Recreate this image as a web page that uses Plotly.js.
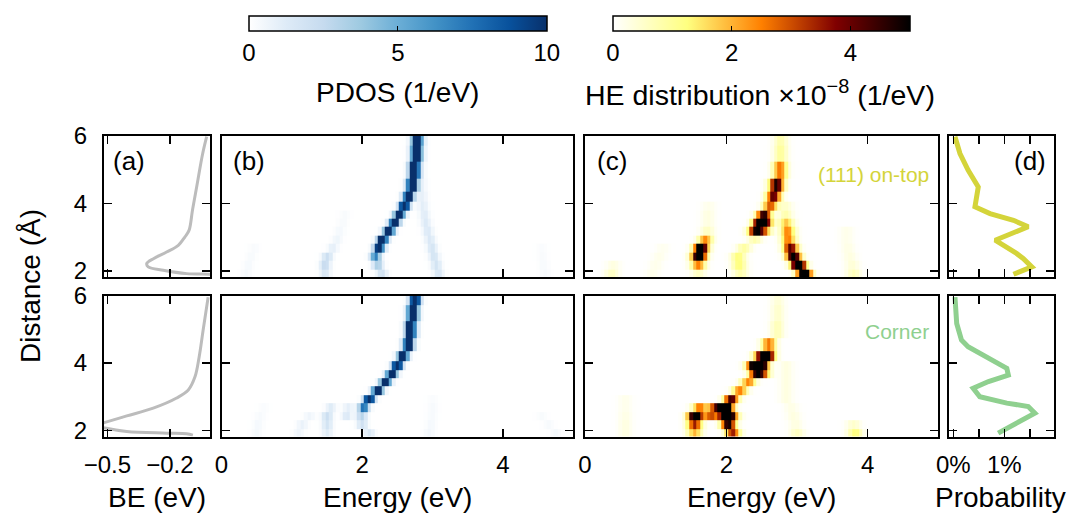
<!DOCTYPE html>
<html><head><meta charset="utf-8">
<script src="https://cdn.plot.ly/plotly-3.0.1.min.js"></script>
<style>html,body{margin:0;padding:0;background:#fff}</style>
</head><body><div id="chart" style="width:1072px;height:513px"></div>
<script>
// ---------- data ----------
// distance rows (Å) of the heat maps (cell centres)
const distRows = [1.925, 2.175, 2.425, 2.675, 2.925, 3.175, 3.425, 3.675, 3.925, 4.175, 4.5, 5.0, 5.5, 5.9];

// PDOS, (111) on-top : ridges (distance, energy of peak, height)
const pdosTopMainD = [1.925, 2.175, 2.425, 2.675, 2.925, 3.175, 3.425, 3.675, 3.925, 4.175, 4.5, 5.0, 5.5, 5.9];
const pdosTopMainE = [2.28, 2.22, 2.19, 2.24, 2.29, 2.38, 2.46, 2.53, 2.60, 2.66, 2.71, 2.74, 2.77, 2.78];
const pdosTopMainV = [2.0, 3.5, 7, 13, 14, 14, 14, 14, 14, 14, 14, 14, 14, 14];
const pdosTopRightD = [1.925, 2.175, 2.425, 2.675, 2.925, 3.175, 3.425, 3.675, 3.925, 4.175, 4.5, 5.0, 5.5, 5.9];
const pdosTopRightE = [3.08, 3.05, 3.02, 2.99, 2.96, 2.93, 2.90, 2.88, 2.86, 2.85, 2.84, 2.83, 2.83, 2.83];
const pdosTopRightV = [1.6, 1.8, 1.8, 1.7, 1.5, 1.4, 1.3, 1.2, 1.1, 0.9, 0.7, 0.5, 0.4, 0.3];
const pdosTopLeftD = [1.925, 2.175, 2.425, 2.675, 2.925, 3.175, 3.425, 3.675];
const pdosTopLeftE = [1.47, 1.47, 1.50, 1.58, 1.64, 1.68, 1.72, 1.75];
const pdosTopLeftV = [1.5, 2.5, 2.2, 1.0, 0.6, 0.4, 0.3, 0.25];
const pdosTopFaint1D = [1.925, 2.175, 2.425, 2.675];
const pdosTopFaint1E = [0.35, 0.38, 0.42, 0.46];
const pdosTopFaint1V = [0.4, 0.35, 0.3, 0.25];
const pdosTopFaint2D = [1.925, 2.175, 2.425, 2.675];
const pdosTopFaint2E = [4.60, 4.58, 4.56, 4.55];
const pdosTopFaint2V = [0.3, 0.3, 0.25, 0.2];

// PDOS, corner
const pdosBotMainD = [1.925, 2.175, 2.425, 2.675, 2.925, 3.175, 3.425, 3.675, 3.925, 4.175, 4.5, 5.0, 5.5, 5.9];
const pdosBotMainE = [2.10, 2.00, 1.99, 2.02, 2.10, 2.22, 2.33, 2.42, 2.50, 2.58, 2.66, 2.69, 2.72, 2.75];
const pdosBotMainV = [1.5, 2.0, 3.0, 8, 14, 14, 14, 14, 14, 14, 14, 14, 14, 14];
const pdosBotLeft1D = [1.925, 2.175, 2.425, 2.675];
const pdosBotLeft1E = [1.50, 1.50, 1.50, 1.55];
const pdosBotLeft1V = [1.2, 1.8, 2.2, 1.2];
const pdosBotLeft2D = [2.425, 2.675];
const pdosBotLeft2E = [1.78, 1.80];
const pdosBotLeft2V = [1.4, 1.0];
const pdosBotLeft3D = [1.925, 2.175, 2.425];
const pdosBotLeft3E = [1.10, 1.15, 1.25];
const pdosBotLeft3V = [0.6, 0.8, 0.6];
const pdosBotFaint1D = [1.925, 2.175, 2.425, 2.675];
const pdosBotFaint1E = [0.50, 0.52, 0.55, 0.60];
const pdosBotFaint1V = [0.4, 0.4, 0.3, 0.2];
const pdosBotFaint2D = [1.925, 2.175, 2.425, 2.675, 2.925];
const pdosBotFaint2E = [2.95, 2.97, 2.99, 3.00, 3.00];
const pdosBotFaint2V = [0.5, 0.4, 0.3, 0.3, 0.2];
const pdosBotFaint3D = [1.925, 2.175, 2.425];
const pdosBotFaint3E = [4.75, 4.65, 4.55];
const pdosBotFaint3V = [0.4, 0.3, 0.25];

// HE distribution (x1e-8), (111) on-top
const heTopMainD = [1.925, 2.175, 2.425, 2.675, 2.925, 3.175, 3.425, 3.675, 3.925, 4.175, 4.5, 5.0, 5.5, 5.9];
const heTopMainE = [2.20, 2.18, 2.17, 2.25, 2.40, 2.41, 2.48, 2.53, 2.62, 2.67, 2.71, 2.76, 2.77, 2.77];
const heTopMainV = [0.8, 1.3, 1.3, 0.9, 0.8, 4.5, 6.5, 4.8, 3.0, 4.2, 4.8, 2.6, 1.0, 0.8];
const heTopMain2D = [3.175, 3.425];
const heTopMain2E = [2.53, 2.56];
const heTopMain2V = [2.5, 2.8];
const heTopRightD = [1.925, 2.175, 2.425, 2.675, 2.925, 3.175, 3.425, 3.675, 3.925];
const heTopRightE = [3.10, 3.02, 2.95, 2.91, 2.88, 2.87, 2.85, 2.84, 2.84];
const heTopRightV = [6.5, 6.5, 5.5, 4.2, 2.6, 2.5, 1.8, 0.8, 0.5];
const heTopLeftD = [1.925, 2.175, 2.425, 2.675, 2.925, 3.175, 3.425, 3.675, 3.925];
const heTopLeftE = [1.60, 1.60, 1.61, 1.64, 1.70, 1.73, 1.74, 1.74, 1.75];
const heTopLeftV = [0.6, 2.5, 6.5, 6.0, 2.4, 0.6, 0.3, 0.3, 0.2];
const heTopFaint1D = [1.925, 2.175];
const heTopFaint1E = [0.38, 0.40];
const heTopFaint1V = [0.6, 0.3];
const heTopFaint2D = [1.925, 2.175, 2.425, 2.675, 2.925, 3.175];
const heTopFaint2E = [3.80, 3.78, 3.75, 3.72, 3.70, 3.70];
const heTopFaint2V = [0.7, 0.4, 0.3, 0.25, 0.2, 0.2];
const heTopFaint3D = [1.925, 2.175, 2.425, 2.675];
const heTopFaint3E = [0.95, 1.00, 1.05, 1.10];
const heTopFaint3V = [0.2, 0.2, 0.2, 0.15];

// HE distribution, corner
const heBotMainD = [1.925, 2.175, 2.425, 2.675, 2.925, 3.175, 3.425, 3.675, 3.925, 4.175, 4.5, 5.0, 5.5, 5.9];
const heBotMainE = [2.09, 2.03, 1.99, 2.00, 2.07, 2.19, 2.31, 2.42, 2.49, 2.58, 2.60, 2.72, 2.73, 2.73];
const heBotMainV = [3.5, 5.0, 6.5, 6.0, 4.5, 2.5, 2.5, 4.2, 6.5, 5.5, 2.6, 0.7, 0.5, 0.4];
const heBotMain2D = [2.425, 2.675, 3.675, 3.925, 4.175];
const heBotMain2E = [2.08, 1.92, 2.52, 2.38, 2.48];
const heBotMain2V = [3.0, 3.0, 2.5, 4.5, 3.0];
const heBotLeftD = [1.925, 2.175, 2.425, 2.675];
const heBotLeftE = [1.55, 1.55, 1.56, 1.62];
const heBotLeftV = [2.0, 3.5, 6.5, 2.6];
const heBotLeft2D = [2.425, 2.675];
const heBotLeft2E = [1.78, 1.82];
const heBotLeft2V = [3.0, 2.2];
const heBotFaint1D = [1.925, 2.175, 2.425, 2.675, 2.925];
const heBotFaint1E = [0.57, 0.57, 0.57, 0.57, 0.57];
const heBotFaint1V = [0.3, 0.3, 0.25, 0.2, 0.2];
const heBotFaint2D = [1.925, 2.175];
const heBotFaint2E = [3.82, 3.80];
const heBotFaint2V = [1.3, 0.5];
const heBotFaint3D = [1.925, 2.175, 2.425, 2.675];
const heBotFaint3E = [3.00, 2.98, 2.95, 2.92];
const heBotFaint3V = [0.6, 0.3, 0.3, 0.25];
const heBotFaint4D = [2.925, 3.175, 3.425, 3.675, 3.925];
const heBotFaint4E = [2.85, 2.85, 2.85, 2.85, 2.85];
const heBotFaint4V = [0.3, 0.3, 0.3, 0.3, 0.3];

// (a) binding energy curves
const beTopBE = [0.0, -0.012, -0.12, -0.232, -0.304, -0.311, -0.277, -0.216, -0.16, -0.128, -0.108, -0.092, -0.072, -0.043, -0.024];
const beTopD  = [1.89, 1.90, 1.92, 2.02, 2.12, 2.22, 2.37, 2.56, 2.76, 3.01, 3.21, 3.80, 4.49, 5.48, 5.98];
const beBotBE = [-0.09, -0.12, -0.216, -0.407, -0.511, -0.56, -0.511, -0.407, -0.28, -0.168, -0.112, -0.08, -0.06, -0.041, -0.017];
const beBotD  = [1.86, 1.90, 1.92, 1.97, 2.07, 2.15, 2.24, 2.43, 2.66, 2.96, 3.20, 3.59, 4.18, 4.97, 5.95];

// (d) probability (%)
const probTopP = [1.18, 1.54, 1.37, 1.24, 0.82, 1.47, 1.18, 0.72, 0.425, 0.49, 0.29, 0.131, 0.033];
const probTopD = [1.90, 2.12, 2.37, 2.52, 2.91, 3.31, 3.50, 3.70, 3.90, 4.49, 4.99, 5.48, 5.98];
const probBotP = [0.88, 1.24, 1.60, 1.47, 1.05, 0.52, 0.39, 0.69, 1.08, 1.05, 0.65, 0.29, 0.16, 0.067, 0.033];
const probBotD = [1.92, 2.22, 2.51, 2.71, 2.81, 3.00, 3.25, 3.45, 3.64, 3.84, 4.18, 4.48, 4.68, 5.17, 5.95];

const distTicks = [2, 4, 6];
const energyTicks = [0, 2, 4];
const beTicks = [-0.5, -0.2];
const beTickText = ['\u22120.5', '\u22120.2'];
const probTicks = [0, 1];
const probTickText = ['0%', '1%'];
const probMinorTicks = [0.5, 1.5];

// ---------- build heat-map tables ----------
const energies = [];
for (let k = 0; k <= 100; k++) energies.push(+(k * 0.05).toFixed(2));
function grid(ridges, sigma) {
  const z = distRows.map(() => energies.map(() => 0));
  ridges.forEach(([d, e, v]) => {
    d.forEach((dv, i) => {
      const row = distRows.indexOf(dv);
      energies.forEach((E, k) => { z[row][k] += v[i] * Math.exp(-0.5 * Math.pow((E - e[i]) / sigma, 2)); });
    });
  });
  return z;
}
const zPdosTop = grid([[pdosTopMainD, pdosTopMainE, pdosTopMainV], [pdosTopRightD, pdosTopRightE, pdosTopRightV],
  [pdosTopLeftD, pdosTopLeftE, pdosTopLeftV], [pdosTopFaint1D, pdosTopFaint1E, pdosTopFaint1V],
  [pdosTopFaint2D, pdosTopFaint2E, pdosTopFaint2V]], 0.05);
const zPdosBot = grid([[pdosBotMainD, pdosBotMainE, pdosBotMainV], [pdosBotLeft1D, pdosBotLeft1E, pdosBotLeft1V],
  [pdosBotLeft2D, pdosBotLeft2E, pdosBotLeft2V], [pdosBotLeft3D, pdosBotLeft3E, pdosBotLeft3V],
  [pdosBotFaint1D, pdosBotFaint1E, pdosBotFaint1V], [pdosBotFaint2D, pdosBotFaint2E, pdosBotFaint2V],
  [pdosBotFaint3D, pdosBotFaint3E, pdosBotFaint3V]], 0.05);
const zHeTop = grid([[heTopMainD, heTopMainE, heTopMainV], [heTopMain2D, heTopMain2E, heTopMain2V],
  [heTopRightD, heTopRightE, heTopRightV], [heTopLeftD, heTopLeftE, heTopLeftV],
  [heTopFaint1D, heTopFaint1E, heTopFaint1V], [heTopFaint2D, heTopFaint2E, heTopFaint2V],
  [heTopFaint3D, heTopFaint3E, heTopFaint3V]], 0.068);
const zHeBot = grid([[heBotMainD, heBotMainE, heBotMainV], [heBotMain2D, heBotMain2E, heBotMain2V],
  [heBotLeftD, heBotLeftE, heBotLeftV], [heBotLeft2D, heBotLeft2E, heBotLeft2V],
  [heBotFaint1D, heBotFaint1E, heBotFaint1V], [heBotFaint2D, heBotFaint2E, heBotFaint2V],
  [heBotFaint3D, heBotFaint3E, heBotFaint3V], [heBotFaint4D, heBotFaint4E, heBotFaint4V]], 0.068);

// ---------- geometry ----------
const W = 1072, H = 513;
const px = p => p / W, py = p => 1 - p / H;
const colX = { a: [104, 210], b: [221.5, 573.3], c: [585, 938.3], d: [949, 1054] };
const rowY = { top: [136, 277], bot: [295.5, 436.5] };
const FONT = 'Liberation Sans, Arial, Helvetica, sans-serif';

const blues = [[0, '#ffffff'], [0.125, '#deebf7'], [0.25, '#c6dbef'], [0.375, '#9ecae1'], [0.5, '#6baed6'],
  [0.625, '#4292c6'], [0.75, '#2171b5'], [0.875, '#08519c'], [1, '#08306b']];
const afmhotR = [[0, '#ffffff'], [0.25, '#ffff80'], [0.5, '#ff8000'], [0.75, '#800000'], [1, '#000000']];

const GREY = '#bcbcbc', YEL = '#d4d43a', GRN = '#8fd08f';

const traces = [
  { type: 'scatter', mode: 'lines', x: beTopBE, y: beTopD, xaxis: 'x', yaxis: 'y', line: { color: GREY, width: 3, shape: 'spline' } },
  { type: 'heatmap', x: energies, y: distRows, z: zPdosTop, coloraxis: 'coloraxis', xaxis: 'x2', yaxis: 'y2', zsmooth: false },
  { type: 'heatmap', x: energies, y: distRows, z: zHeTop, coloraxis: 'coloraxis2', xaxis: 'x3', yaxis: 'y3', zsmooth: false },
  { type: 'scatter', mode: 'lines', x: probTopP, y: probTopD, xaxis: 'x4', yaxis: 'y4', line: { color: YEL, width: 5 } },
  { type: 'scatter', mode: 'lines', x: beBotBE, y: beBotD, xaxis: 'x5', yaxis: 'y5', line: { color: GREY, width: 3, shape: 'spline' } },
  { type: 'heatmap', x: energies, y: distRows, z: zPdosBot, coloraxis: 'coloraxis', xaxis: 'x6', yaxis: 'y6', zsmooth: false },
  { type: 'heatmap', x: energies, y: distRows, z: zHeBot, coloraxis: 'coloraxis2', xaxis: 'x7', yaxis: 'y7', zsmooth: false },
  { type: 'scatter', mode: 'lines', x: probBotP, y: probBotD, xaxis: 'x8', yaxis: 'y8', line: { color: GRN, width: 5 } }
];

function ax(extra) {
  return Object.assign({
    showline: true, linewidth: 2, linecolor: '#000', mirror: 'ticks', ticks: 'inside', ticklen: 8,
    tickwidth: 1.5, tickcolor: '#000', zeroline: false, showgrid: false, fixedrange: true,
    tickfont: { size: 24, color: '#000', family: FONT }
  }, extra);
}
function cbar(x, len, vals) {
  return {
    orientation: 'h', x: px(x), xanchor: 'center', y: py(16), yanchor: 'top', len: len, lenmode: 'pixels',
    thickness: 15, thicknessmode: 'pixels', outlinewidth: 1.5, outlinecolor: '#000', xpad: 0, ypad: 0,
    ticks: 'inside', ticklen: 5, tickwidth: 1.2, tickcolor: '#000', tickvals: vals,
    tickfont: { size: 24, family: FONT, color: '#000' }
  };
}
const layout = {
  width: W, height: H, margin: { l: 0, r: 0, t: 0, b: 0 }, showlegend: false,
  paper_bgcolor: '#fff', plot_bgcolor: '#fff', font: { family: FONT, color: '#000' },
  coloraxis: { cmin: 0, cmax: 10, colorscale: blues, colorbar: cbar(397.8, 298, [0, 5, 10]) },
  coloraxis2: { cmin: 0, cmax: 5, colorscale: afmhotR, colorbar: cbar(761.3, 297, [0, 2, 4]) },
  annotations: []
};
const cols = ['a', 'b', 'c', 'd'];
['top', 'bot'].forEach((r, ri) => {
  cols.forEach((c, ci) => {
    const n = ri * 4 + ci + 1;
    const xs = n === 1 ? '' : n;
    const xa = { domain: [px(colX[c][0]), px(colX[c][1])], anchor: 'y' + xs };
    if (c === 'a') Object.assign(xa, { range: [-0.516, -0.008], tickvals: beTicks, ticktext: beTickText });
    if (c === 'b' || c === 'c') Object.assign(xa, { range: [0, 5], tickvals: energyTicks });
    if (c === 'd') Object.assign(xa, { range: [-0.084, 1.975], tickvals: probTicks, ticktext: probTickText,
      minor: { tickvals: probMinorTicks, ticks: 'inside', ticklen: 8, tickwidth: 1.5, tickcolor: '#000', showgrid: false } });
    xa.showticklabels = (r === 'bot');
    xa.ticklabelstandoff = 6;
    const ya = { domain: [py(rowY[r][1]), py(rowY[r][0])], anchor: 'x' + xs, range: [1.82, 6], tickvals: distTicks,
      showticklabels: c === 'a', ticklabelstandoff: 10 };
    layout['xaxis' + xs] = ax(xa);
    layout['yaxis' + xs] = ax(ya);
  });
});

function note(text, x, y, opts) {
  layout.annotations.push(Object.assign({ text, x: px(x), y: py(y), xref: 'paper', yref: 'paper', showarrow: false,
    xanchor: 'left', yanchor: 'middle', font: { size: 26, family: FONT, color: '#000' } }, opts || {}));
}
const big = { size: 28, family: FONT, color: '#000' };
note('PDOS (1/eV)', 397.8, 92, { xanchor: 'center', font: big });
note('HE distribution \u00d710<sup>\u22128</sup> (1/eV)', 760, 93, { xanchor: 'center', font: { size: 28.5, family: FONT, color: '#000' } });
note('(a)', 111, 161);
note('(b)', 231, 161);
note('(c)', 595, 161);
note('(d)', 1048, 161, { xanchor: 'right' });
note('(111) on-top', 931, 175, { xanchor: 'right', font: { size: 21, family: FONT, color: YEL } });
note('Corner', 931, 331, { xanchor: 'right', font: { size: 21, family: FONT, color: GRN } });
note('Distance (\u00c5)', 30, 286, { xanchor: 'center', textangle: -90, font: big });
note('BE (eV)', 157, 497, { xanchor: 'center', font: big });
note('Energy (eV)', 397.4, 497, { xanchor: 'center', font: big });
note('Energy (eV)', 761.7, 497, { xanchor: 'center', font: big });
note('Probability', 1000, 497, { xanchor: 'center', font: big });

Plotly.newPlot('chart', traces, layout, { displayModeBar: false, staticPlot: true });
</script></body></html>
